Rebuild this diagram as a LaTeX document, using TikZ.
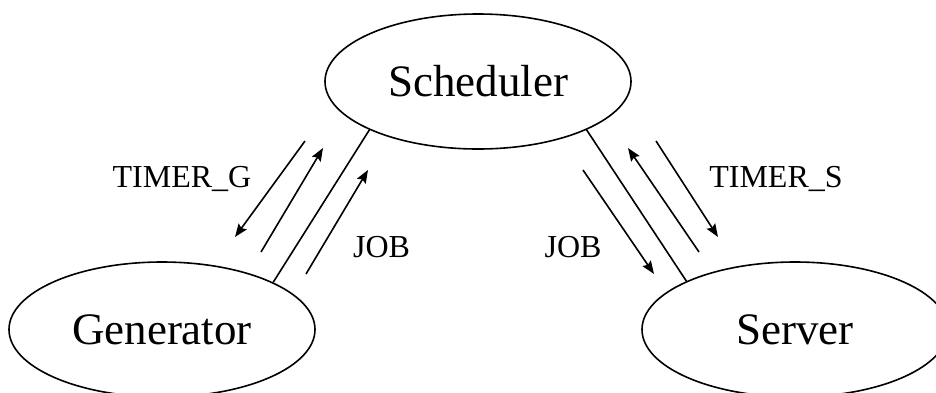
\documentclass[tikz,border=0pt]{standalone}
\usepackage{fontspec}
\setmainfont{Liberation Serif}
\usetikzlibrary{shapes.geometric,arrows.meta}
\begin{document}
\begin{tikzpicture}[x=1pt,y=-1pt,
  proc/.style={ellipse,draw,line width=1.6pt,minimum width=306pt,minimum height=135pt,
    inner sep=0pt,font=\fontsize{45}{50}\selectfont},
  link/.style={line width=1.6pt},
  msg/.style={line width=1.6pt,-{Stealth[length=13pt,width=10pt,inset=2pt]}},
  lbl/.style={anchor=base,inner sep=0pt,font=\fontsize{32}{36}\selectfont}]
  \useasboundingbox (0,0) rectangle (936,392);

  % processes
  \node[proc] (sch) at (478,81.5) {Scheduler};
  \node[proc] (gen) at (162,329.5) {Generator};
  \node[proc] (srv) at (795,329.5) {Server};

  % channels between the processes
  \draw[link] (gen.23.9) -- (sch.204);
  \draw[link] (sch.336.3) -- (srv.156.5);

  % message arrows on the generator side
  \coordinate (g1a) at (305,141); \coordinate (g1b) at (235,237);
  \coordinate (g2a) at (261,252); \coordinate (g2b) at (323,148);
  \coordinate (g3a) at (306,274); \coordinate (g3b) at (368,170);
  \draw[msg] (g1a) -- (g1b);
  \draw[msg] (g2a) -- (g2b);
  \draw[msg] (g3a) -- (g3b);

  % message arrows on the server side
  \coordinate (s1a) at (583,170); \coordinate (s1b) at (654,274);
  \coordinate (s2a) at (699,252); \coordinate (s2b) at (628,148);
  \coordinate (s3a) at (656,141); \coordinate (s3b) at (718,237);
  \draw[msg] (s1a) -- (s1b);
  \draw[msg] (s2a) -- (s2b);
  \draw[msg] (s3a) -- (s3b);

  % labels
  \node[lbl] (tg) at (182,187) {TIMER\_G};
  \node[lbl] (jg) at (381.5,257) {JOB};
  \node[lbl] (js) at (573,257) {JOB};
  \node[lbl] (ts) at (776,187) {TIMER\_S};
\end{tikzpicture}
\end{document}
